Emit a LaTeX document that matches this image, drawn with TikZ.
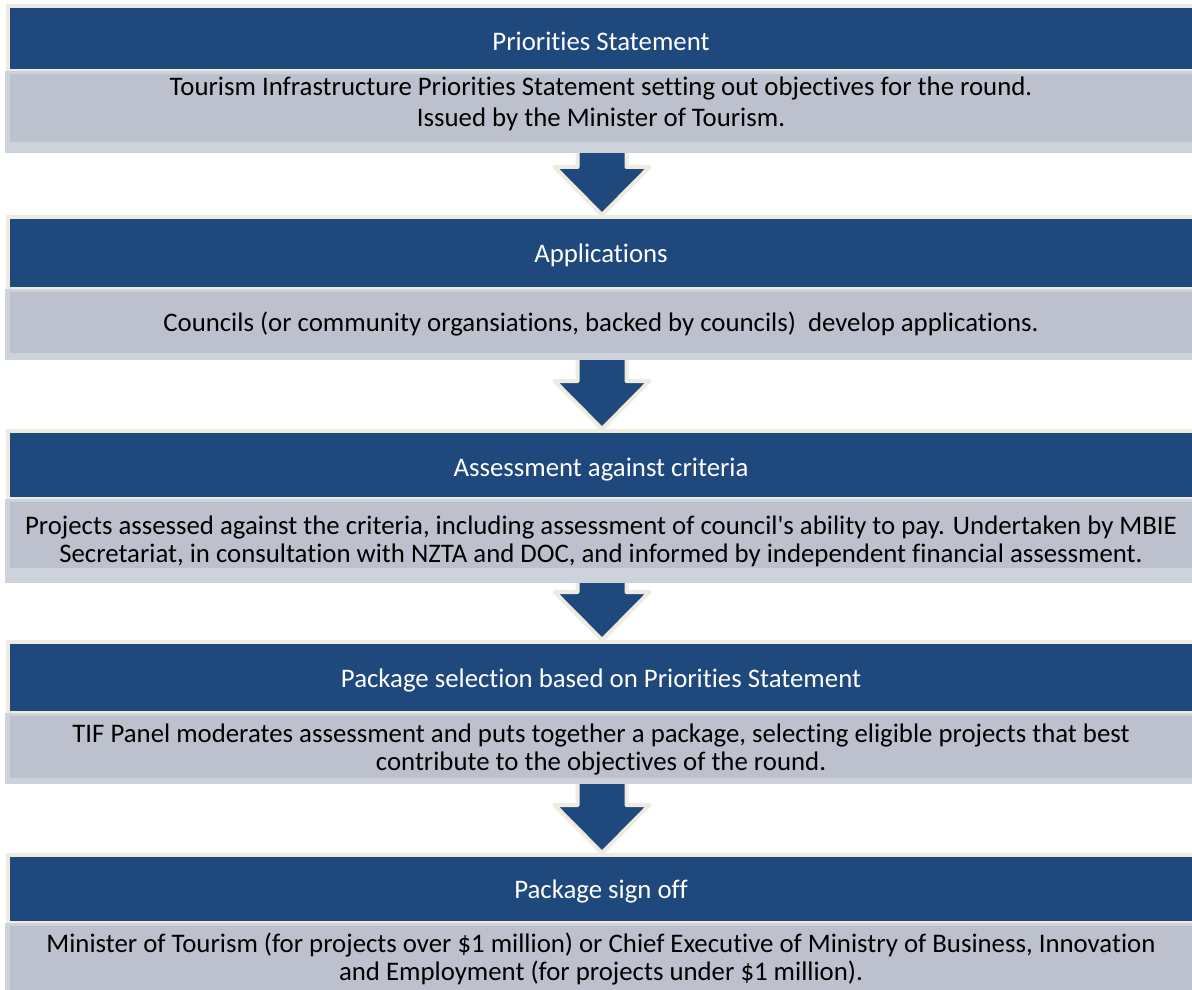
\documentclass[tikz,border=0pt]{standalone}
\usepackage{fontspec}
\setmainfont{Carlito}[Ligatures=NoCommon]
\usetikzlibrary{calc,backgrounds}
\definecolor{hdrblue}{HTML}{1F497D}
\definecolor{beige}{HTML}{EEECE1}
\definecolor{bodydark}{HTML}{BCC1CD}
\definecolor{bodylight}{HTML}{CED2DB}
\begin{document}
\begin{tikzpicture}[x=0.5pt,y=-0.5pt,
  hdr/.style={fill=hdrblue, draw=beige, line width=2pt, inner sep=0pt, outer sep=0pt, minimum width=594pt},
  bodybox/.style={fill=bodylight, draw=none, inner sep=0pt, outer sep=0pt, minimum width=597pt,
    path picture={\fill[bodydark] ($(path picture bounding box.north west)+(2.5pt,-1.5pt)$) rectangle ($(path picture bounding box.south east)+(-2.5pt,#1)$);}},
  ttl/.style={anchor=base, text=white, font=\fontsize{13.4pt}{16pt}\selectfont, inner sep=0pt},
  txt/.style={anchor=base, text=black, font=\fontsize{13.4pt}{16pt}\selectfont, inner sep=0pt},
  arr/.style={fill=hdrblue, draw=beige, line width=2pt, line join=round}
]
\useasboundingbox (0,0) rectangle (1192,989);
% headers and bodies
\node[hdr, minimum height=32.5pt] (h1) at (602,38.5) {};
\node[bodybox=5.5pt, minimum height=41pt] (b1) at (602,112) {};
\node[hdr, minimum height=36pt] (h2) at (602,253) {};
\node[bodybox=3.5pt, minimum height=35.5pt] (b2) at (602,324.5) {};
\node[hdr, minimum height=34pt] (h3) at (602,465) {};
\node[bodybox=7.5pt, minimum height=42pt] (b3) at (602,541) {};
\node[hdr, minimum height=35.5pt] (h4) at (602,677.5) {};
\node[bodybox=3pt, minimum height=35.5pt] (b4) at (602,748.5) {};
\node[hdr, minimum height=34pt] (h5) at (602,889) {};
\node[bodybox=0pt, minimum height=38.5pt] (b5) at (602,961.5) {};
% arrows
\begin{scope}[on background layer]
\fill[white] (0,0) rectangle (1192,989);
\foreach \a/\b in {b1/h2, b2/h3, b3/h4, b4/h5} {
  \draw[arr] ($(\a.south)+(-24.5,-6)$) -- ($(\b.north)+(-24.5,-50)$) -- ($(\b.north)+(-47.5,-50)$)
    -- ($(\b.north)+(0,-2)$) -- ($(\b.north)+(47.5,-50)$) -- ($(\b.north)+(24.5,-50)$)
    -- ($(\a.south)+(24.5,-6)$) -- cycle;
}
\end{scope}
% texts
\node[ttl] (t1) at (601,50.5) {Priorities Statement};
\node[txt] (b1l1) at (601,96) {Tourism Infrastructure Priorities Statement setting out objectives for the round.};
\node[txt] (b1l2) at (601,127) {Issued by the Minister of Tourism.};
\node[ttl] (t2) at (601,262.5) {Applications};
\node[txt] (b2l1) at (601,331.5) {Councils (or community organsiations, backed by councils)\ \ develop applications.};
\node[ttl] (t3) at (601,476.5) {Assessment against criteria};
\node[txt] (b3l1) at (601,534.5) {Projects assessed against the criteria, including assessment of council\textquotesingle s ability to pay. Undertaken by MBIE};
\node[txt] (b3l2) at (601,562.5) {Secretariat, in consultation with NZTA and DOC, and informed by independent financial assessment.};
\node[ttl] (t4) at (601,687.5) {Package selection based on Priorities Statement};
\node[txt] (b4l1) at (601,742.5) {TIF Panel moderates assessment and puts together a package, selecting eligible projects that best};
\node[txt] (b4l2) at (601,770.5) {contribute to the objectives of the round.};
\node[ttl] (t5) at (601,898.5) {Package sign off};
\node[txt] (b5l1) at (601,952.5) {Minister of Tourism (for projects over \$1 million) or Chief Executive of Ministry of Business, Innovation};
\node[txt] (b5l2) at (601,980.5) {and Employment (for projects under \$1 million).};
\end{tikzpicture}
\end{document}
